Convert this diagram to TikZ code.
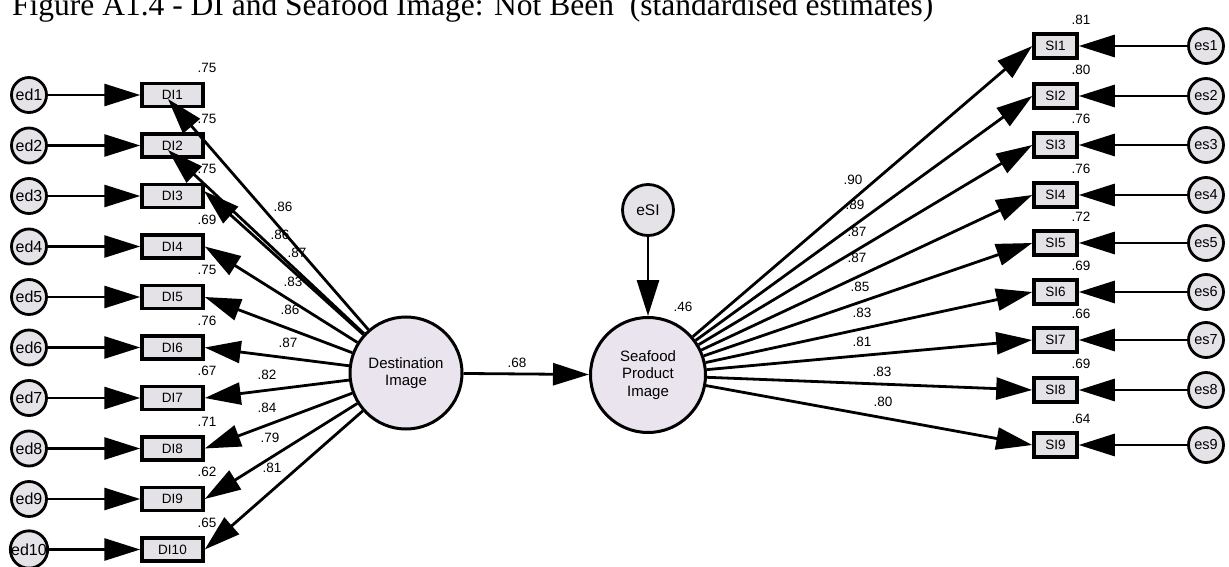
\documentclass[tikz,border=0pt]{standalone}
\usepackage{fontspec}
\setmainfont{Liberation Serif}
\newfontfamily\arialf{Liberation Sans}
\usetikzlibrary{arrows.meta}
\definecolor{latfill}{HTML}{E9E4EE}
\definecolor{errfill}{HTML}{E6E3E8}
\definecolor{obsfill}{HTML}{E4E2E6}
\begin{document}
\begin{tikzpicture}[x=1pt,y=-1pt,
  lat/.style={circle, draw, line width=3pt, fill=latfill, minimum size=112pt, inner sep=0pt, align=center, font=\arialf\fontsize{15}{17.5}\selectfont},
  err/.style={circle, draw, line width=2.8pt, fill=errfill, minimum size=35pt, inner sep=0pt, font=\arialf\fontsize{14.5}{16}\selectfont},
  obsbox/.style={rectangle, draw, line width=3.5pt, fill=obsfill, minimum width=61pt, minimum height=23pt, inner sep=0pt, font=\arialf\fontsize{13.5}{15}\selectfont},
  sibox/.style={obsbox, minimum width=43pt, minimum height=24pt},
  arr/.style={line width=2.8pt, -{Triangle[length=36pt,width=22pt]}},
  coef/.style={inner sep=0pt, font=\arialf\fontsize{13.5}{15}\selectfont}
]
\useasboundingbox (0,0) rectangle (1229,567);
\fill[white] (0,0) rectangle (1229,567);

\node[anchor=base west, inner sep=0pt, font=\fontsize{31.5}{34}\selectfont] (title) at (12,16) {Figure A1.4 - DI and Seafood Image: Not Been\ \ (standardised estimates)};

% latent variables
\node[lat] (dest) at (406,373) {Destination\\Image};
\node[lat, minimum size=115pt] (spi) at (648,375) {Seafood\\Product\\Image};
\node[err, minimum size=51pt, font=\arialf\fontsize{15.5}{17}\selectfont] (esi) at (648,210) {eSI};

% left indicators
\foreach \i/\y/\r in {1/95/.75,2/145.5/.75,3/196/.75,4/246.5/.69,5/297/.75,6/347.5/.76,7/398/.67,8/448.5/.71,9/499/.62,10/549.5/.65}{
  \node[err, font=\arialf\fontsize{16}{18}\selectfont] (ed\i) at (29,\y) {ed\i};
  \node[obsbox] (DI\i) at (172.5,\y) {DI\i};
  \node[coef] (rd\i) at (207,\y-27) {\r};
  \draw[arr] (ed\i) -- (DI\i);
}

% right indicators
\foreach \i/\y/\r in {1/46/.81,2/96/.80,3/145/.76,4/195/.76,5/243/.72,6/292/.69,7/340/.66,8/390/.69,9/445/.64}{
  \node[err] (es\i) at (1206,\y) {es\i};
  \node[sibox] (SI\i) at (1055.5,\y) {SI\i};
  \node[coef] (rs\i) at (1081,\y-26) {\r};
  \draw[arr] (es\i) -- (SI\i);
}

% loadings on Destination Image
\coordinate (t1) at (168,99);
\coordinate (t2) at (168,150);
\coordinate (t3) at (204,191);
\draw[arr] (dest) -- (t1);
\draw[arr] (dest) -- (t2);
\draw[arr] (dest) -- (t3);
\foreach \i in {4,...,10}{
  \draw[arr] (dest) -- (DI\i.east);
}
\foreach \i/\x/\y/\v in {1/283/207/.86,2/280/235/.86,3/297/253/.87,4/293/282/.83,5/290/310/.86,6/288/343/.87,7/267/375/.82,8/267/408/.84,9/270/438/.79,10/272/468/.81}{
  \node[coef] (ld\i) at (\x,\y) {\v};
}

% loadings on Seafood Product Image
\foreach \i in {1,...,9}{
  \draw[arr] (spi) -- (SI\i.west);
}
\foreach \i/\x/\y/\v in {1/853/180/.90,2/855/205/.89,3/857/232/.87,4/857/258/.87,5/860/287/.85,6/862/313/.83,7/862/342/.81,8/882/372/.83,9/883/402/.80}{
  \node[coef] (ls\i) at (\x,\y) {\v};
}

% structural path
\draw[arr] (dest) -- (spi);
\node[coef] (b68) at (517,363) {.68};
\draw[arr] (esi) -- (spi);
\node[coef] (r46) at (683,307) {.46};
\end{tikzpicture}
\end{document}
